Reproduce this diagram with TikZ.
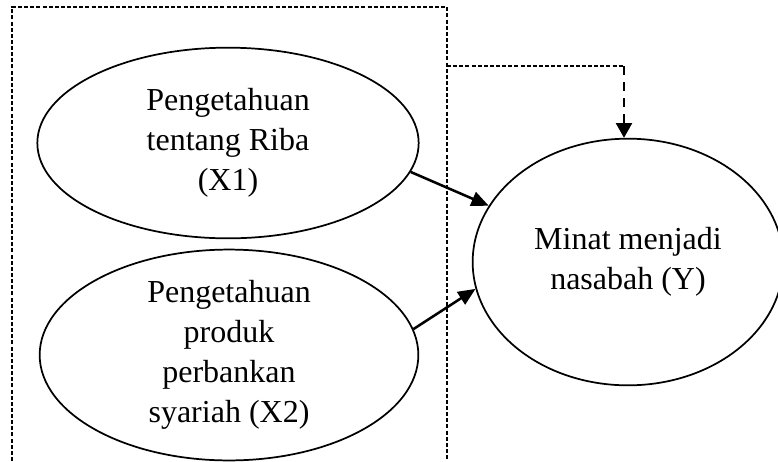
\documentclass[tikz,border=0pt]{standalone}
\usepackage{fontspec}
\setmainfont{Liberation Serif}
\usetikzlibrary{arrows.meta,shapes.geometric}

\begin{document}
\begin{tikzpicture}[x=0.75pt, y=-0.75pt, font=\fontsize{24}{30}\selectfont,
  var/.style={draw, ellipse, line width=1.3pt, inner sep=0pt, align=center},
  link/.style={-{Triangle[length=13pt,width=11pt]}, line width=1.9pt},
  frame/.style={line width=0.8pt, dash pattern=on 3pt off 1.6pt},
  feed/.style={line width=1.6pt, dash pattern=on 7pt off 5pt,
               -{Triangle[length=11pt,width=12pt]}}]

\useasboundingbox (0,0) rectangle (778,461);

\node[var, minimum width=286pt, minimum height=143pt] (x1) at (228,143)
  {Pengetahuan\\tentang Riba\\(X1)};
\node[var, minimum width=284pt, minimum height=147pt] (x2) at (229,355)
  {Pengetahuan\\produk\\perbankan\\syariah (X2)};
\node[var, minimum width=233pt, minimum height=185pt] (y)  at (628,262)
  {Minat menjadi\\nasabah (Y)};

% open frame round both X variables
\coordinate (fbl) at (12,461);
\coordinate (fbr) at (447,461);
\draw[frame] (fbl) -- (12,7) -- (447,7) -- (fbr);

\draw[link] (x1.-9.7) -- (y.158);
\draw[link] (x2.8.7)  -- (y.190.4);

% joint effect of X1 and X2 on Y
\coordinate (jnt) at (447,66);
\coordinate (bend) at (624,66);
\draw[frame] (jnt) -- (bend);
\draw[feed] (bend) -- (y.north -| bend);

\end{tikzpicture}
\end{document}
